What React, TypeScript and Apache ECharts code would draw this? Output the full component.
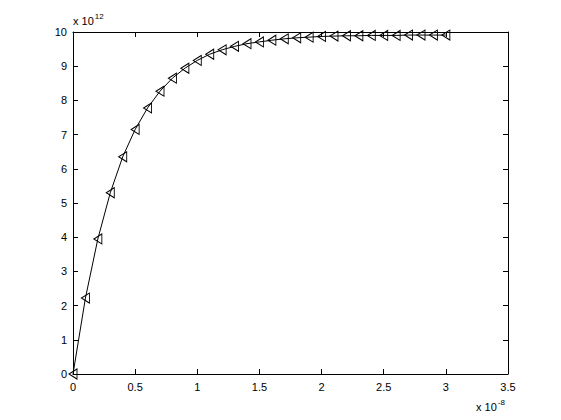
import React, { useEffect, useRef } from "react";
import * as echarts from "echarts";

const xValues = [0, 0.1, 0.2, 0.3, 0.4, 0.5, 0.6, 0.7, 0.8, 0.9, 1.0, 1.1, 1.2, 1.3, 1.4, 1.5, 1.6, 1.7, 1.8, 1.9, 2.0, 2.1, 2.2, 2.3, 2.4, 2.5, 2.6, 2.7, 2.8, 2.9, 3.0];
const yValues = [0, 2.22, 3.95, 5.3, 6.35, 7.15, 7.78, 8.27, 8.65, 8.94, 9.17, 9.35, 9.48, 9.58, 9.66, 9.71, 9.76, 9.8, 9.83, 9.85, 9.87, 9.88, 9.89, 9.89, 9.9, 9.9, 9.9, 9.91, 9.91, 9.91, 9.91];
const xRange = [0, 3.5, 0.5];
const yRange = [0, 10, 1];
const yExponent = "12";
const xExponent = "-8";

const FONT = "'Liberation Sans', Arial, sans-serif";

export default function App() {
  const ref = useRef<HTMLDivElement>(null);
  useEffect(() => {
    if (!ref.current) return;
    const chart = echarts.init(ref.current, undefined, { renderer: "svg" });
    const axisCommon = {
      axisLine: { show: true, onZero: false, lineStyle: { color: "#000", width: 1 } },
      axisTick: { show: true, inside: true, length: 5, lineStyle: { color: "#000" } },
      splitLine: { show: false },
    };
    const labelStyle = { color: "#000", fontFamily: FONT, fontSize: 11 };
    const rich = {
      b: { fontFamily: FONT, fontSize: 11, fill: "#000", verticalAlign: "bottom", lineHeight: 14 },
      s: { fontFamily: FONT, fontSize: 8, fill: "#000", verticalAlign: "top", padding: [0, 0, 6, 1] },
    };
    chart.setOption({
      animation: false,
      backgroundColor: "#fff",
      grid: { left: 73, right: 53, top: 32, bottom: 46, containLabel: false },
      xAxis: [
        {
          type: "value", min: xRange[0], max: xRange[1], interval: xRange[2], position: "bottom",
          ...axisCommon,
          axisLabel: { ...labelStyle, margin: 7 },
        },
        {
          type: "value", min: xRange[0], max: xRange[1], interval: xRange[2], position: "top",
          ...axisCommon,
          axisLabel: { show: false },
        },
      ],
      yAxis: [
        {
          type: "value", min: yRange[0], max: yRange[1], interval: yRange[2], position: "left",
          ...axisCommon,
          axisLabel: { ...labelStyle, margin: 6 },
        },
        {
          type: "value", min: yRange[0], max: yRange[1], interval: yRange[2], position: "right",
          ...axisCommon,
          axisLabel: { show: false },
        },
      ],
      graphic: [
        {
          type: "text", left: 73, top: 12,
          style: { text: "{b|x 10}{s|" + yExponent + "}", rich },
        },
        {
          type: "text", left: 476, top: 398,
          style: { text: "{b|x 10}{s|" + xExponent + "}", rich },
        },
      ],
      series: [
        {
          type: "line",
          data: xValues.map((x, i) => [x, yValues[i]]),
          symbol: "triangle",
          symbolSize: [10, 8],
          symbolRotate: 90,
          showAllSymbol: true,
          lineStyle: { color: "#000", width: 1 },
          itemStyle: { color: "rgba(0,0,0,0)", borderColor: "#000", borderWidth: 1 },
          emphasis: { disabled: true },
        },
      ],
    });
    return () => chart.dispose();
  }, []);
  return <div ref={ref} style={{ width: 561, height: 420, position: "absolute", left: 0, top: 0 }} />;
}
